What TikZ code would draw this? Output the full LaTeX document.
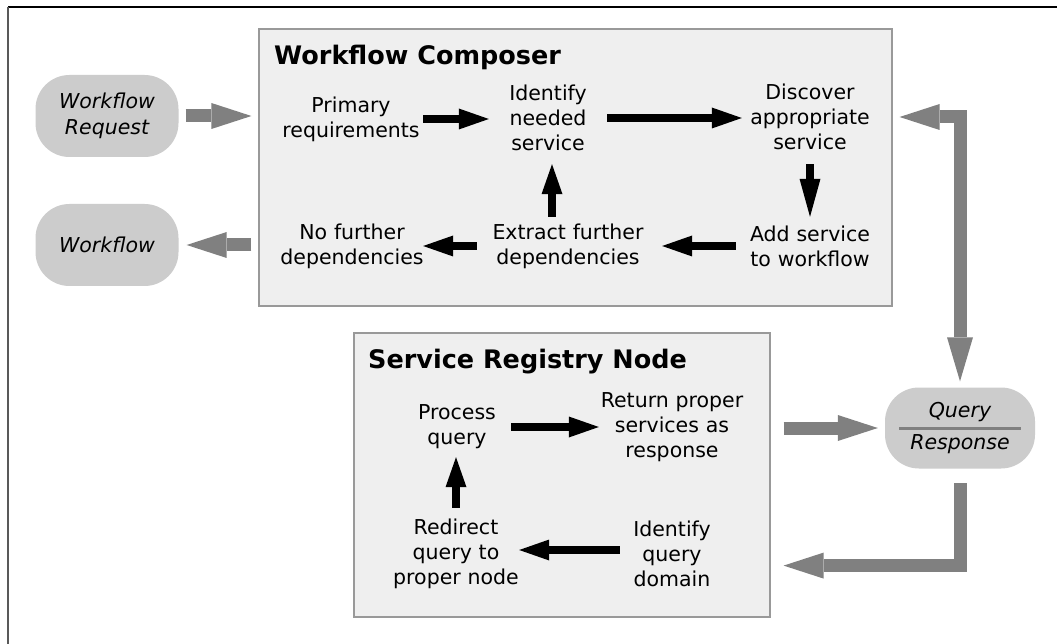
\documentclass[tikz,border=0pt]{standalone}
\usepackage{fontspec}
\setmainfont{DejaVu Sans}
\usetikzlibrary{arrows.meta,calc}
\definecolor{boxfill}{HTML}{EFEFEF}
\definecolor{boxline}{HTML}{999999}
\definecolor{pill}{HTML}{CCCCCC}
\definecolor{garrow}{HTML}{808080}
\begin{document}
\begin{tikzpicture}[x=1pt,y=-1pt,
  panel/.style={draw=boxline, line width=1.2pt, fill=boxfill, inner sep=0pt},
  pillbox/.style={fill=pill, rounded corners=34pt, minimum width=143pt, minimum height=82pt, inner sep=0pt, align=center, font=\fontsize{20.5}{26}\selectfont\itshape},
  qtext/.style={inner sep=0pt, font=\fontsize{20.5}{26}\selectfont\itshape},
  title/.style={anchor=base west, inner sep=0pt, font=\fontsize{25.5}{30}\selectfont\bfseries},
  stepthree/.style={inner sep=0pt, align=center, minimum height=90pt, font=\fontsize{20.5}{25}\selectfont},
  steptwo/.style={inner sep=0pt, align=center, minimum height=60pt, font=\fontsize{20.5}{25}\selectfont},
  blk/.style={line width=8pt, draw=black, -{Triangle[length=30pt,width=21pt,line width=0pt]}},
  gry/.style={line width=13pt, draw=garrow, line join=miter, -{Triangle[length=40pt,width=26pt,line width=0pt]}},
]
\useasboundingbox (0,0) rectangle (1057,644);
\fill[white] (0,0) rectangle (1057,644);
\draw[black, line width=1.5pt] (8,7) -- (1057,7);
\draw[black!65, line width=1.5pt] (8,7) -- (8,644);

% panels
\node[panel, minimum width=633pt, minimum height=277pt] (wc) at (575.5,167.5) {};
\node[panel, minimum width=416pt, minimum height=284pt] (srn) at (562,475) {};
\node[title] (wct) at (274,65) {Workflow Composer};
\node[title] (srnt) at (368,368) {Service Registry Node};

% pills
\node[pillbox] (wreq) at (107,116) {Workflow\\Request};
\node[pillbox] (wf) at (107,245) {Workflow};
\node[pillbox, minimum width=150pt, minimum height=81pt] (qr) at (960,428) {};
\node[qtext, anchor=base] (qt) at (960,417) {Query};
\node[qtext, anchor=base] (rt) at (960,449) {Response};
\draw[garrow, line width=3pt] ($(qr.center)+(-61,0)$) -- ($(qr.center)+(61,0)$);

% composer steps
\node[steptwo, text width=140pt] (prim) at (351,119) {Primary\\requirements};
\node[stepthree, text width=80pt] (idn) at (548,118) {Identify\\needed\\service};
\node[stepthree, text width=122pt] (disc) at (810,117) {Discover\\appropriate\\service};
\node[steptwo, text width=120pt] (add) at (810,246) {Add service\\to workflow};
\node[steptwo, text width=154pt] (ext) at (568,246) {Extract further\\dependencies};
\node[steptwo, text width=146pt] (nof) at (352,246) {No further\\dependencies};

% registry steps
\node[steptwo, text width=80pt] (proc) at (457,427) {Process\\query};
\node[stepthree, text width=146pt] (ret) at (672,427) {Return proper\\services as\\response};
\node[stepthree, text width=128pt] (red) at (456,554) {Redirect\\query to\\proper node};
\node[stepthree, text width=80pt] (idq) at (672,554) {Identify\\query\\domain};

% black arrows
\draw[blk, shorten <=2pt, shorten >=19pt] (prim.east) -- (prim.east -| idn.west);
\draw[blk, shorten <=19pt, shorten >=7pt] (idn.east) -- (idn.east -| disc.west);
\draw[blk, -{Triangle[length=38pt,width=21pt,line width=0pt]}, shorten <=2pt, shorten >=-1pt] (disc.south) -- (disc.south |- add.north);
\draw[blk, shorten <=14pt, shorten >=17pt] (add.west) -- (add.west -| ext.east);
\draw[blk, shorten <=14pt, shorten >=-2pt] (ext.west) -- (ext.west -| nof.east);
\draw[blk, shorten <=-1pt, shorten >=1pt] ([xshift=4pt]idn.south |- ext.north) -- ([xshift=4pt]idn.south);
\draw[blk, shorten <=14pt, shorten >=0pt] (proc.east) -- (proc.east -| ret.west);
\draw[blk, shorten <=12pt, shorten >=-1pt] ([yshift=4pt]idq.west) -- ([yshift=4pt]idq.west -| red.east);
\draw[blk, shorten <=1pt, shorten >=0pt] (red.north) -- (red.north |- proc.south);

% gray arrows
\draw[gry, shorten <=7pt, shorten >=7pt] (wreq.east) -- (wreq.east -| wc.west);
\draw[gry, shorten <=7pt, shorten >=8pt] (wf.east -| wc.west) -- (wf.east);
\draw[gry, shorten <=13pt, shorten >=7pt] (qr.west -| srn.east) -- (qr.west);
\draw[gry, {Triangle[length=40pt,width=26pt,line width=0pt]}-{Triangle[length=44pt,width=26pt,line width=0pt]}, shorten <=7pt, shorten >=6pt] (disc -| wc.east) -| (qr.north);
\draw[gry, shorten <=14.5pt, shorten >=13pt] (qr.south) |- ($(srn.south east)+(0,-52)$);
\end{tikzpicture}
\end{document}
